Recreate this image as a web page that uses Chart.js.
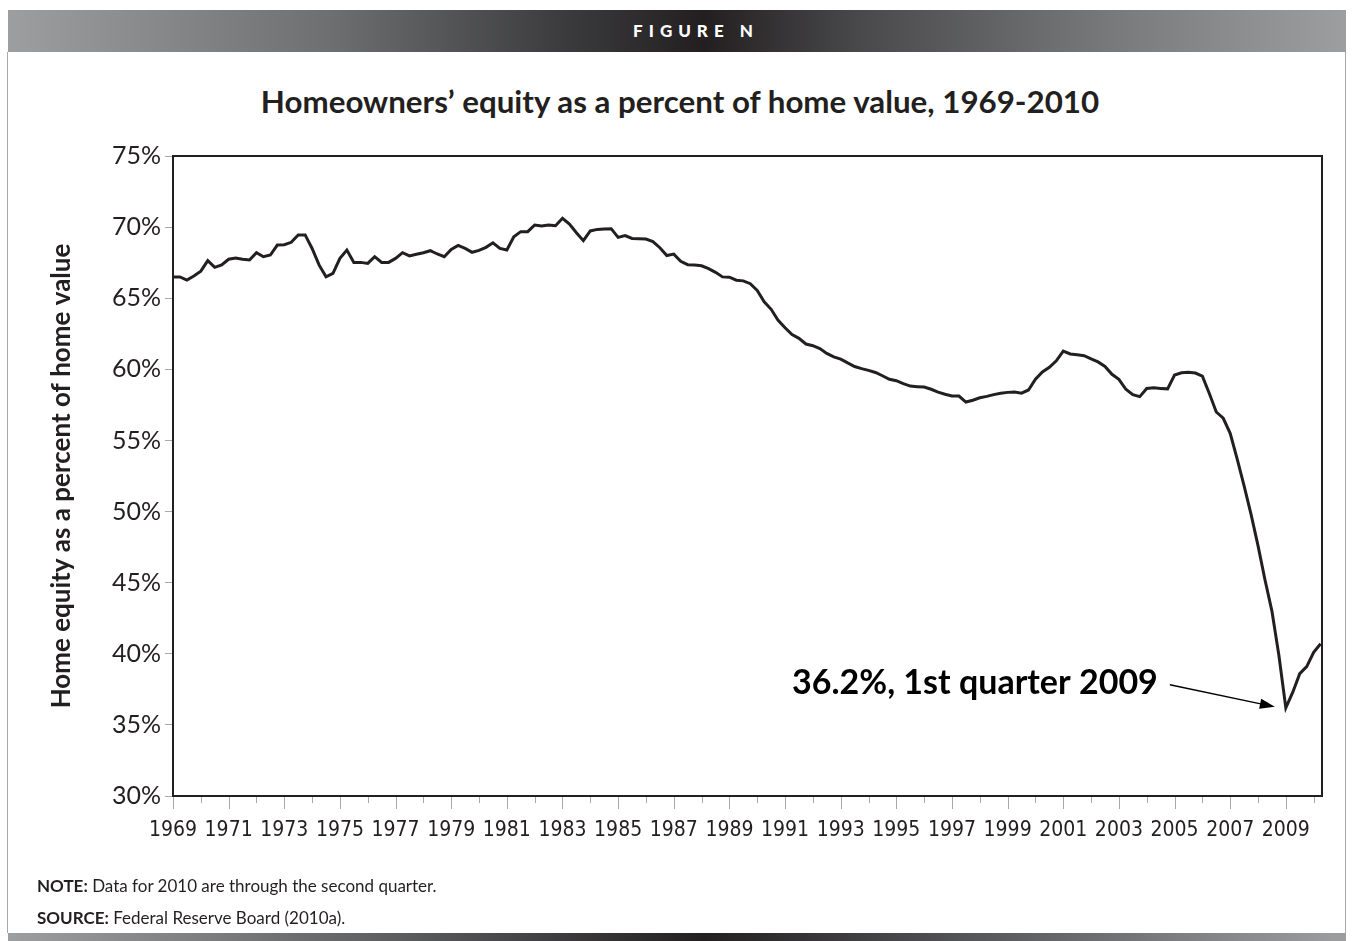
<!DOCTYPE html>
<html>
<head>
<meta charset="utf-8">
<script src="https://cdn.jsdelivr.net/npm/chart.js@4.4.1/dist/chart.umd.min.js"></script>
<style>
  html, body { margin: 0; padding: 0; background: #fff; }
  body { width: 1353px; height: 941px; position: relative; overflow: hidden; font-family: Lato, "Open Sans", sans-serif; color: #231f20; }
  #topbar { position: absolute; left: 8px; top: 10px; width: 1300px; padding-left: 38px; height: 42px;
    background: linear-gradient(to right, #9d9ea0 0%, #6e6f71 24%, #3a3a3c 42%, #231f20 52%, #4a4a4c 64%, #77787a 82%, #9d9ea0 100%);
    color: #fff; font: 900 17px Lato, sans-serif; letter-spacing: 6px; text-align: center; line-height: 42px; }
  #botbar { position: absolute; left: 8px; top: 933px; width: 1338px; height: 8px;
    background: linear-gradient(to right, #9d9ea0 0%, #5a5b5d 30%, #231f20 52%, #55565a 72%, #9d9ea0 100%); }
  .side { position: absolute; top: 52px; height: 881px; width: 1px; background: #a7a9ac; }
  #title { position: absolute; left: 0; width: 1360px; top: 82px; text-align: center; font: bold 31.3px Lato, sans-serif; }
  .note { position: absolute; left: 37px; font: 17px Lato, sans-serif; }
  .note b { font-weight: bold; }
  canvas { position: absolute; left: 0; top: 0; }
</style>
</head>
<body>
<div id="topbar">FIGURE N</div>
<div class="side" style="left:7px"></div>
<div class="side" style="left:1345px"></div>
<div id="title">Homeowners’ equity as a percent of home value, 1969-2010</div>
<canvas id="myChart" width="1353" height="941"></canvas>
<div class="note" style="top:875px"><b>NOTE:</b> Data for 2010 are through the second quarter.</div>
<div class="note" style="top:907px"><b>SOURCE:</b> Federal Reserve Board (2010a).</div>
<div id="botbar"></div>
<script>
// quarterly, 1969 Q1 .. 2010 Q2
var startYear = 1969;
var equityShare = [
  66.5, 66.5, 66.28, 66.56, 66.9, 67.64, 67.17, 67.34, 67.74, 67.83,
  67.74, 67.69, 68.2, 67.92, 68.04, 68.74, 68.76, 68.93, 69.45, 69.45,
  68.5, 67.34, 66.51, 66.75, 67.81, 68.39, 67.52, 67.52, 67.45, 67.92,
  67.52, 67.52, 67.8, 68.2, 67.97, 68.09, 68.2, 68.34, 68.11, 67.92,
  68.43, 68.71, 68.5, 68.23, 68.36, 68.58, 68.9, 68.5, 68.39, 69.32,
  69.68, 69.68, 70.15, 70.08, 70.15, 70.1, 70.62, 70.22, 69.6, 69.05,
  69.73, 69.84, 69.87, 69.89, 69.28, 69.4, 69.2, 69.18, 69.16, 68.98,
  68.55, 68.0, 68.1, 67.6, 67.36, 67.34, 67.28, 67.08, 66.82, 66.5,
  66.48, 66.27, 66.22, 66.02, 65.55, 64.75, 64.22, 63.45, 62.92, 62.44,
  62.18, 61.78, 61.66, 61.46, 61.12, 60.88, 60.72, 60.45, 60.2, 60.05,
  59.93, 59.78, 59.55, 59.3, 59.2, 59.0, 58.82, 58.78, 58.75, 58.6,
  58.4, 58.25, 58.13, 58.12, 57.7, 57.83, 58.0, 58.1, 58.22, 58.32,
  58.38, 58.4, 58.32, 58.55, 59.3, 59.82, 60.14, 60.6, 61.28, 61.08,
  61.02, 60.96, 60.74, 60.52, 60.2, 59.65, 59.3, 58.6, 58.22, 58.08,
  58.65, 58.7, 58.66, 58.63, 59.6, 59.76, 59.79, 59.74, 59.52, 58.3,
  57.0, 56.56, 55.5, 53.7, 51.8, 49.8, 47.6, 45.2, 43.0, 39.9,
  36.2, 37.3, 38.6, 39.1, 40.1, 40.7
];
var xTickLabels = ['1969', '1971', '1973', '1975', '1977', '1979', '1981', '1983', '1985', '1987',
  '1989', '1991', '1993', '1995', '1997', '1999', '2001', '2003', '2005', '2007', '2009'];
var yTickLabels = ['30%', '35%', '40%', '45%', '50%', '55%', '60%', '65%', '70%', '75%'];
var lowPoint = { year: 2009, value: 36.2, text: '36.2%, 1st quarter 2009' };

var points = equityShare.map(function (v, i) { return { x: startYear + i / 4, y: v }; });
var ink = '#231f20';

var framePlugin = {
  id: 'framePlugin',
  afterDraw: function (chart) {
    var c = chart.ctx, a = chart.chartArea, xs = chart.scales.x, ys = chart.scales.y;
    c.save();
    // year ticks under the axis, longer where there is a label
    c.strokeStyle = '#a7a9ac';
    c.lineWidth = 1;
    c.beginPath();
    xs.ticks.forEach(function (t) {
      var px = Math.round(xs.getPixelForValue(t.value)) + 0.5;
      var len = xTickLabels.indexOf(String(t.value)) >= 0 ? 13 : 7;
      c.moveTo(px, a.bottom);
      c.lineTo(px, a.bottom + len);
    });
    c.stroke();
    // box round the plot
    c.strokeStyle = ink;
    c.lineWidth = 2;
    c.strokeRect(a.left, a.top, a.right - a.left, a.bottom - a.top);
    // annotation on the 2009 low
    var px = xs.getPixelForValue(lowPoint.year), py = ys.getPixelForValue(lowPoint.value);
    c.fillStyle = '#000';
    c.font = 'bold 34px Lato';
    c.textAlign = 'right';
    c.textBaseline = 'alphabetic';
    c.fillText(lowPoint.text, px - 128, py - 14);
    var x0 = px - 116, y0 = py - 23, x1 = px - 11, y1 = py - 1;
    var ang = Math.atan2(y1 - y0, x1 - x0);
    c.strokeStyle = '#000';
    c.lineWidth = 1.5;
    c.beginPath();
    c.moveTo(x0, y0);
    c.lineTo(x1 - 12 * Math.cos(ang), y1 - 12 * Math.sin(ang));
    c.stroke();
    c.beginPath();
    c.moveTo(x1, y1);
    c.lineTo(x1 - 15 * Math.cos(ang) + 5 * Math.sin(ang), y1 - 15 * Math.sin(ang) - 5 * Math.cos(ang));
    c.lineTo(x1 - 15 * Math.cos(ang) - 5 * Math.sin(ang), y1 - 15 * Math.sin(ang) + 5 * Math.cos(ang));
    c.closePath();
    c.fill();
    c.restore();
  }
};

var ctx = document.getElementById('myChart');
var myChart = new Chart(ctx, {
  type: 'line',
  data: {
    datasets: [{
      data: points,
      borderColor: ink,
      borderWidth: 3,
      pointRadius: 0,
      tension: 0,
      fill: false
    }]
  },
  options: {
    responsive: false,
    animation: false,
    events: [],
    layout: { padding: { left: 0, top: 156, right: 31, bottom: 85 } },
    plugins: { legend: { display: false }, tooltip: { enabled: false } },
    scales: {
      x: {
        type: 'linear',
        min: 1969,
        max: 2010.3,
        afterFit: function (s) { s.height = 60; },
        grid: { display: false, drawTicks: false },
        border: { display: false },
        ticks: {
          stepSize: 1,
          autoSkip: false,
          includeBounds: false,
          maxRotation: 0,
          padding: 22,
          color: ink,
          font: { family: '"DejaVu Sans Condensed", "Liberation Sans Narrow", Lato', size: 21 },
          callback: function (v) { return xTickLabels.indexOf(String(v)) >= 0 ? String(v) : ''; }
        }
      },
      y: {
        min: 30,
        max: 75,
        afterFit: function (s) { s.width = 173; },
        grid: { drawOnChartArea: false, drawTicks: true, tickLength: 8, tickColor: '#a7a9ac' },
        border: { display: false },
        ticks: {
          stepSize: 5,
          padding: 4,
          color: ink,
          font: { family: 'Lato', size: 25 },
          callback: function (v) { return yTickLabels[(v - 30) / 5]; }
        },
        title: {
          display: true,
          text: 'Home equity as a percent of home value',
          color: ink,
          font: { family: 'Lato', size: 26, weight: 'bold' },
          padding: { top: 46, bottom: 0 }
        }
      }
    }
  },
  plugins: [framePlugin]
});
</script>
</body>
</html>
